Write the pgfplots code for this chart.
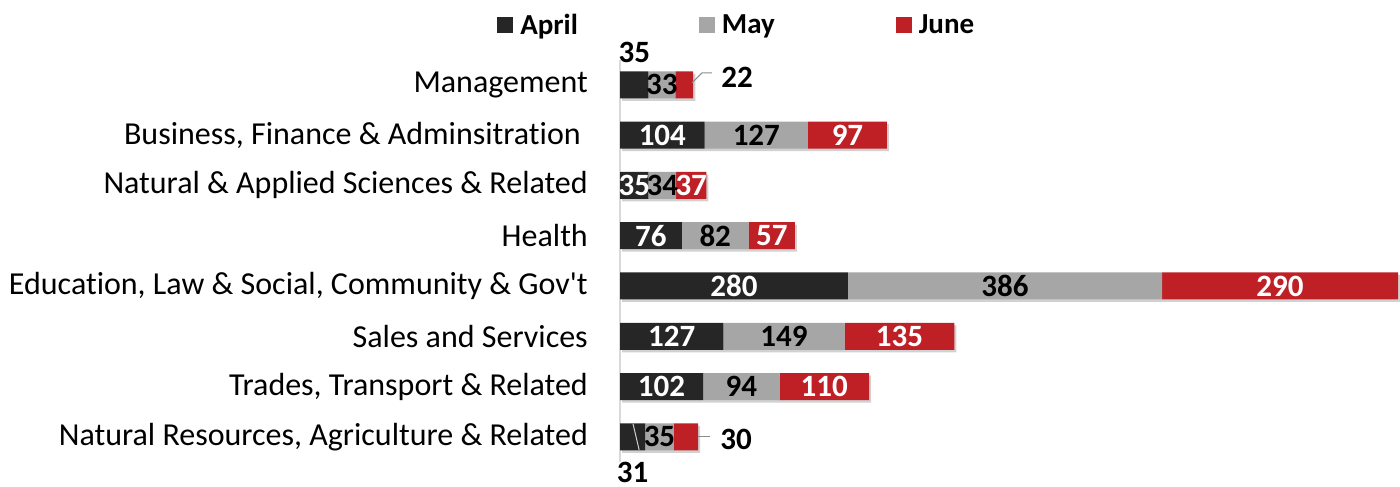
\documentclass[border=0pt]{standalone}
\usepackage{pgfplots}
\pgfplotsset{compat=1.18}
\usepackage{pgfplotstable}
\usepackage{fontspec}
\setmainfont{Carlito}[Ligatures=NoCommon, RawFeature={-liga;-clig}]
\definecolor{aprc}{RGB}{38,38,38}
\definecolor{mayc}{RGB}{166,166,166}
\definecolor{junc}{RGB}{190,32,38}
\pgfplotstableread{
pos apr may jun
0 35 33 22
1 104 127 97
2 35 34 37
3 76 82 57
4 280 386 290
5 127 149 135
6 102 94 110
7 31 35 30
}\datatable
\pgfplotsset{
  common/.style={
    at={(620pt,25pt)}, anchor=south west,
    scale only axis, width=778pt, height=402.3pt,
    xmin=0, xmax=956, ymin=-0.5, ymax=7.5, y dir=reverse,
    clip=false,
  },
  lbl/.style={draw=none, mark=none, nodes near coords, point meta=explicit symbolic,
    nodes near coords style={font=\bfseries\fontsize{31}{36}\selectfont, anchor=center, inner sep=0pt}},
}
\begin{document}
\begin{tikzpicture}
\path[use as bounding box] (0,0) rectangle (1400pt,487pt);
% soft shadow behind the bars
\begin{axis}[common, at={(622pt,22.5pt)}, hide axis, xbar, bar width=27pt]
\addplot[fill=black!18, draw=none] table[x expr=\thisrow{apr}+\thisrow{may}+\thisrow{jun}, y=pos] \datatable;
\end{axis}
\begin{axis}[common,
  xbar stacked, bar width=27pt,
  axis x line=none, axis y line*=left,
  y axis line style={draw=black!15, line width=1.5pt},
  ytick={0,...,7},
  yticklabels={{Management},{Business, Finance \& Adminsitration\hspace*{7pt}},{Natural \& Applied Sciences \& Related},{Health},{Education, Law \& Social, Community \& Gov\textquotesingle t},{Sales and Services},{Trades, Transport \& Related},{Natural Resources, Agriculture \& Related}},
  ytick style={draw=none}, major tick length=0pt,
  yticklabel style={font=\fontsize{32}{38}\selectfont, anchor=east, inner sep=0pt, xshift=-32pt},
  legend style={at={(-0.158,1.087)}, anchor=west, draw=none, fill=none, legend columns=3,
    font=\bfseries\fontsize{29}{34}\selectfont, inner sep=0pt,
    /tikz/every even column/.append style={column sep=119pt}},
  legend image code/.code={\fill[#1] (0pt,-8pt) rectangle (16pt,8pt); \path (21pt,0pt);},
]
\addplot[fill=aprc, draw=none] table[x=apr, y=pos] \datatable;
\addplot[fill=mayc, draw=none] table[x=may, y=pos] \datatable;
\addplot[fill=junc, draw=none] table[x=jun, y=pos] \datatable;
\legend{April, May, June}
\end{axis}
\begin{axis}[common, hide axis]
% April labels (inside)
\addplot[lbl, nodes near coords style={text=white}, restrict expr to domain={\coordindex}{1:6}]
  table[x expr=\thisrow{apr}/2, y=pos, meta=apr] \datatable;
% May labels
\addplot[lbl, nodes near coords style={text=black}]
  table[x expr=\thisrow{apr}+\thisrow{may}/2, y=pos, meta=may] \datatable;
% June labels (inside)
\addplot[lbl, nodes near coords style={text=white}, restrict expr to domain={\coordindex}{1:6}]
  table[x expr=\thisrow{apr}+\thisrow{may}+\thisrow{jun}/2, y=pos, meta=jun] \datatable;
% Management April label above
\addplot[lbl, nodes near coords style={text=black, yshift=32pt}, restrict expr to domain={\coordindex}{0:0}]
  table[x expr=\thisrow{apr}/2, y=pos, meta=apr] \datatable;
% Natural Resources April label below
\addplot[lbl, nodes near coords style={text=black, yshift=-36pt}, restrict expr to domain={\coordindex}{7:7}]
  table[x expr=\thisrow{apr}/2, y=pos, meta=apr] \datatable;
% Management June label right
\addplot[lbl, nodes near coords style={text=black, anchor=west, xshift=28pt, yshift=8pt}, restrict expr to domain={\coordindex}{0:0}]
  table[x expr=\thisrow{apr}+\thisrow{may}+\thisrow{jun}, y=pos, meta=jun] \datatable;
% Natural Resources June label right
\addplot[lbl, nodes near coords style={text=black, anchor=west, xshift=22pt, yshift=-3pt}, restrict expr to domain={\coordindex}{7:7}]
  table[x expr=\thisrow{apr}+\thisrow{may}+\thisrow{jun}, y=pos, meta=jun] \datatable;
% leader lines
\addplot[black!45, line width=1pt] coordinates {(88.5,-0.04) (100.8,-0.24) (113,-0.24)};
\addplot[black!45, line width=1pt] coordinates {(96,7) (111,7)};
\addplot[white!80!black, line width=1pt] coordinates {(16,6.74) (23.5,7.26)};
\end{axis}
\end{tikzpicture}
\end{document}
